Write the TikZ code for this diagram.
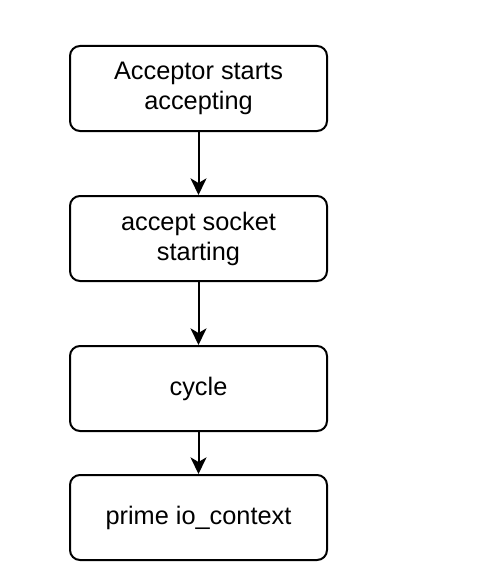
\documentclass[tikz,border=0pt]{standalone}
\usepackage{fontspec}
\setmainfont{Liberation Sans}
\usetikzlibrary{arrows.meta}
\begin{document}
\begin{tikzpicture}[x=0.75pt,y=-0.75pt,
  box/.style={draw=black,line width=1.5pt,rounded corners=7.5pt,fill=white,
    minimum width=192.75pt,minimum height=63.75pt,align=center,inner sep=0pt,
    font=\fontsize{19pt}{22.5pt}\selectfont},
  conn/.style={draw=black,line width=1.5pt,-{Stealth[length=12.5pt,width=12pt,inset=3.5pt]}}]
\useasboundingbox[fill=white] (0,0) rectangle (480,585);
\node[box] (a) at (198.5,88.5) {Acceptor starts\\accepting};
\node[box] (b) at (198.5,238.5) {accept socket\\starting};
\node[box] (c) at (198.5,388.5) {cycle};
\node[box] (d) at (198.5,517.5) {prime io\_context};
\draw[conn] (a) -- (b);
\draw[conn] (b) -- (c);
\draw[conn] (c) -- (d);
\end{tikzpicture}
\end{document}
